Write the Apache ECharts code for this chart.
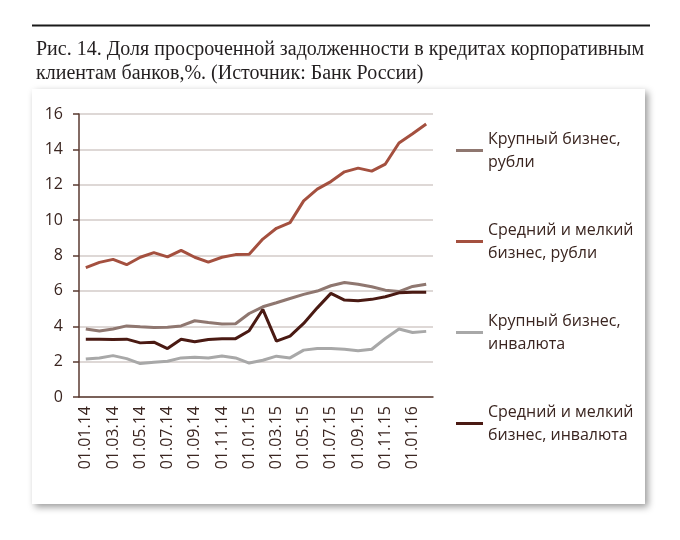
<!DOCTYPE html>
<html>
<head>
<meta charset="utf-8">
<script src="https://cdn.jsdelivr.net/npm/echarts@6/dist/echarts.min.js"></script>
<style>
html,body{margin:0;padding:0;background:#fff;}
#c{width:680px;height:540px;}
</style>
</head>
<body>
<div id="c"></div>
<script>
const categories = ['01.01.14','01.02.14','01.03.14','01.04.14','01.05.14','01.06.14','01.07.14','01.08.14','01.09.14','01.10.14','01.11.14','01.12.14',
  '01.01.15','01.02.15','01.03.15','01.04.15','01.05.15','01.06.15','01.07.15','01.08.15','01.09.15','01.10.15','01.11.15','01.12.15',
  '01.01.16','01.02.16'];
const largeRub = [3.84,3.73,3.84,4.02,3.97,3.93,3.95,4.02,4.31,4.21,4.13,4.14,4.72,5.10,5.33,5.57,5.80,5.99,6.29,6.47,6.38,6.23,6.04,5.96,6.25,6.38];
const smeRub = [7.31,7.61,7.78,7.48,7.90,8.16,7.92,8.29,7.90,7.63,7.90,8.05,8.07,8.93,9.54,9.86,11.09,11.75,12.18,12.73,12.94,12.77,13.17,14.36,14.88,15.43];
const largeFx = [2.15,2.21,2.34,2.17,1.89,1.97,2.02,2.21,2.25,2.21,2.32,2.21,1.92,2.08,2.31,2.21,2.65,2.74,2.74,2.70,2.62,2.70,3.31,3.84,3.65,3.71];
const smeFx = [3.27,3.27,3.25,3.27,3.06,3.10,2.74,3.27,3.12,3.25,3.29,3.30,3.75,4.95,3.16,3.44,4.16,5.04,5.86,5.48,5.44,5.52,5.67,5.89,5.92,5.92];
const seriesNames = ['Крупный бизнес,\nрубли','Средний и мелкий\nбизнес, рубли','Крупный бизнес,\nинвалюта','Средний и мелкий\nбизнес, инвалюта'];
const yTicks = {min:0, max:16, interval:2};
const titleText = 'Рис. 14. Доля просроченной задолженности в кредитах корпоративным\nклиентам банков,%. (Источник: Банк России)';

const colors = ['#8f7770','#a4503f','#a8a8a8','#4a1a13'];
const dataSets = [largeRub, smeRub, largeFx, smeFx];
const chart = echarts.init(document.getElementById('c'), null, {renderer:'canvas'});
const textColor = '#3a2520';
const sans = '"Open Sans", "Noto Sans", sans-serif';
chart.setOption({
  animation:false,
  title:{
    text:titleText, left:31, top:33,
    textStyle:{fontFamily:'"Liberation Serif", serif', fontSize:20, fontWeight:'normal', color:'#231f20', lineHeight:24}
  },
  graphic:[
    {type:'line', z:-10, shape:{x1:32,y1:25.5,x2:650,y2:25.5}, style:{stroke:'#1a1a1a', lineWidth:2}},
    {type:'rect', z:-10, shape:{x:32,y:89,width:613,height:415},
      style:{fill:'#fff', shadowBlur:7, shadowColor:'rgba(0,0,0,0.4)', shadowOffsetX:3, shadowOffsetY:3}}
  ],
  grid:{left:79, right:247, top:114, bottom:143, containLabel:false},
  legend:{
    orient:'vertical', left:456, top:116, itemGap:22, padding:0,
    itemWidth:27, itemHeight:3, icon:'rect',
    data:seriesNames,
    textStyle:{fontFamily:sans, fontSize:16, color:textColor, lineHeight:23, padding:[23,0,0,0]}
  },
  xAxis:{
    type:'category', data:categories, boundaryGap:true,
    axisLine:{lineStyle:{color:'#5a3a30', width:1.5}},
    axisTick:{interval:0, length:5, lineStyle:{color:'#5a3a30', width:1.5}},
    axisLabel:{interval:1, rotate:90, margin:9, fontFamily:sans, fontSize:16, color:textColor},
    splitLine:{show:false}
  },
  yAxis:{
    type:'value', min:yTicks.min, max:yTicks.max, interval:yTicks.interval,
    axisLine:{show:true, lineStyle:{color:'#5a3a30', width:1.5}},
    axisTick:{show:true, length:6, lineStyle:{color:'#5a3a30', width:1.5}},
    axisLabel:{margin:16, fontFamily:sans, fontSize:16, color:textColor},
    splitLine:{lineStyle:{color:'#d3cbc8', width:1.5}}
  },
  series: dataSets.map((d,i)=>({
    name:seriesNames[i], type:'line', data:d, symbol:'none',
    lineStyle:{color:colors[i], width:3}, itemStyle:{color:colors[i]}, z: 2+i
  }))
});
</script>
</body>
</html>
